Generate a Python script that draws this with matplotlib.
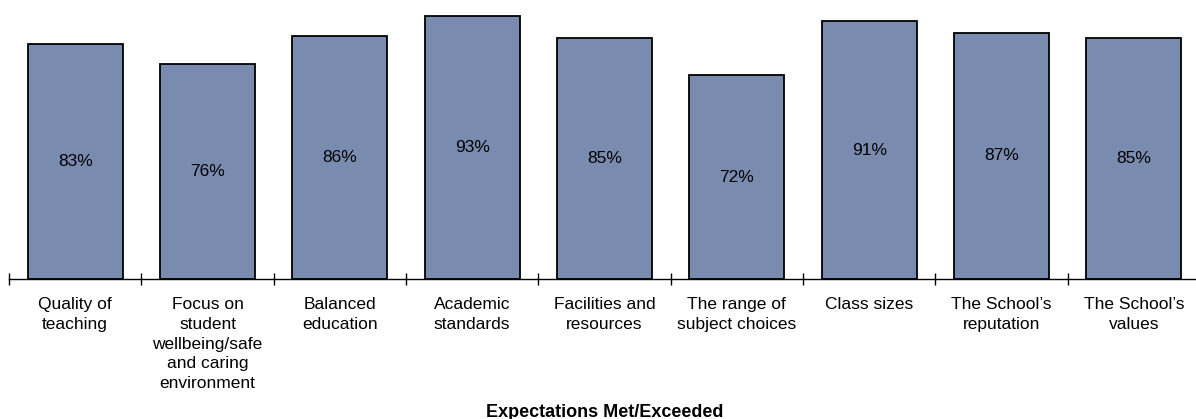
import matplotlib.pyplot as plt
import numpy as np

# Categorias y porcentajes
categorias = ['Quality of\nteaching',
              'Focus on\nstudent\nwellbeing/safe\nand caring\nenvironment',
              'Balanced\neducation',
              'Academic\nstandards',
              'Facilities and\nresources',
              'The range of\nsubject choices',
              'Class sizes',
              'The School\u2019s\nreputation',
              'The School\u2019s\nvalues']
valores = [83, 76, 86, 93, 85, 72, 91, 87, 85]
titulo = 'Expectations Met/Exceeded'

plt.rcParams['font.family'] = ['Liberation Sans', 'DejaVu Sans']

fig = plt.figure(figsize=(11.96, 4.19), dpi=100)
# El eje se sale un poco por la derecha y por arriba
ax = fig.add_axes([9 / 1196, 140 / 419, 1191 / 1196, 283 / 419])

x = np.arange(len(valores))
ax.bar(x, valores, width=0.72, color='#7A8BB0', edgecolor='black', linewidth=1.3, zorder=2)

for xi, v in zip(x, valores):
    ax.text(xi, v / 2, f'{v}%', ha='center', va='center', fontsize=12.5)

ax.set_xlim(-0.5, len(valores) - 0.5)
ax.set_ylim(0, 100)

for s in ['top', 'right', 'left']:
    ax.spines[s].set_visible(False)
ax.spines['bottom'].set_linewidth(1.0)
ax.set_yticks([])

# Marcas entre categorias
ax.set_xticks(x)
ax.set_xticklabels(categorias, fontsize=12.5, linespacing=1.4)
ax.tick_params(axis='x', which='major', length=0, pad=13)
ax.set_xticks(np.arange(len(valores) + 1) - 0.5, minor=True)
ax.tick_params(axis='x', which='minor', direction='inout', length=8, width=1.0)

fig.text(605 / 1196, 7 / 419, titulo, ha='center', va='center', fontsize=13, fontweight='bold')

fig.savefig('out.png', dpi=100)
